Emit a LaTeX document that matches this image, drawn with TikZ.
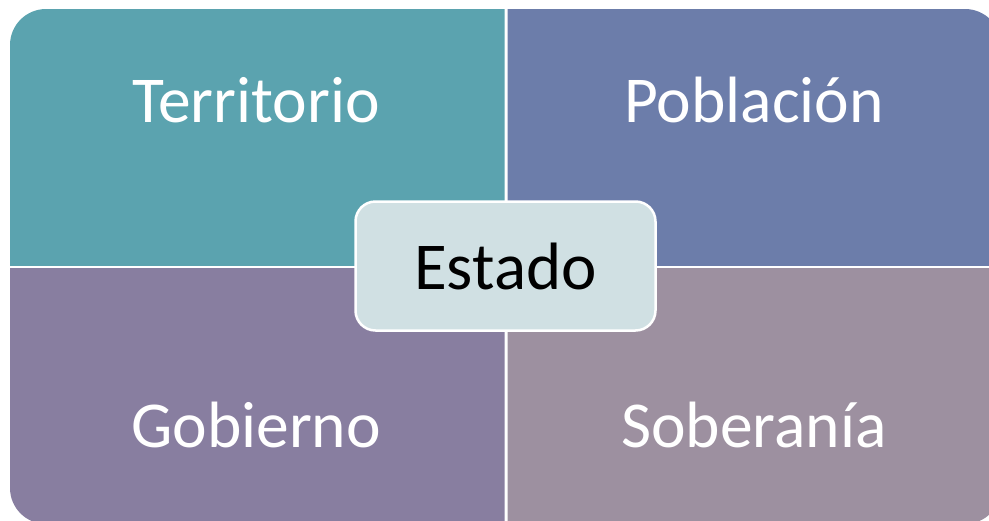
\documentclass[tikz,border=0pt]{standalone}
\usepackage{fontspec}
\setmainfont{Carlito}
\definecolor{cTer}{HTML}{5BA3AF}
\definecolor{cPob}{HTML}{6C7DAA}
\definecolor{cGob}{HTML}{887EA0}
\definecolor{cSob}{HTML}{9D90A0}
\definecolor{cEst}{HTML}{D0E0E3}
\tikzset{
  quadtext/.style={anchor=base, text=white, font=\fontsize{65.5}{72}\selectfont, inner sep=0pt},
  centerbox/.style={draw=white, line width=2.5pt, fill=cEst, rounded corners=20pt, minimum width=300pt, minimum height=129pt, font=\fontsize{67}{74}\selectfont, text=black}
}
\begin{document}
\begin{tikzpicture}[x=1pt,y=-1pt]
\useasboundingbox (0,0) rectangle (989,520);
\begin{scope}
\clip (0,0) rectangle (504.5,265);
\fill[cTer, rounded corners=36pt] (10,9) rectangle (1001,524);
\end{scope}
\begin{scope}
\clip (507.5,0) rectangle (1100,265);
\fill[cPob, rounded corners=36pt] (10,9) rectangle (1001,524);
\end{scope}
\begin{scope}
\clip (0,268) rectangle (504.5,600);
\fill[cGob, rounded corners=36pt] (10,9) rectangle (1001,524);
\end{scope}
\begin{scope}
\clip (507.5,268) rectangle (1100,600);
\fill[cSob, rounded corners=36pt] (10,9) rectangle (1001,524);
\end{scope}
\node[quadtext] (ter) at (256,122) {Territorio};
\node[quadtext] (pob) at (754,122) {Población};
\node[quadtext] (gob) at (256,447) {Gobierno};
\node[quadtext] (sob) at (754,447) {Soberanía};
\node[centerbox] (est) at (505.5,266) {Estado};
\end{tikzpicture}
\end{document}
